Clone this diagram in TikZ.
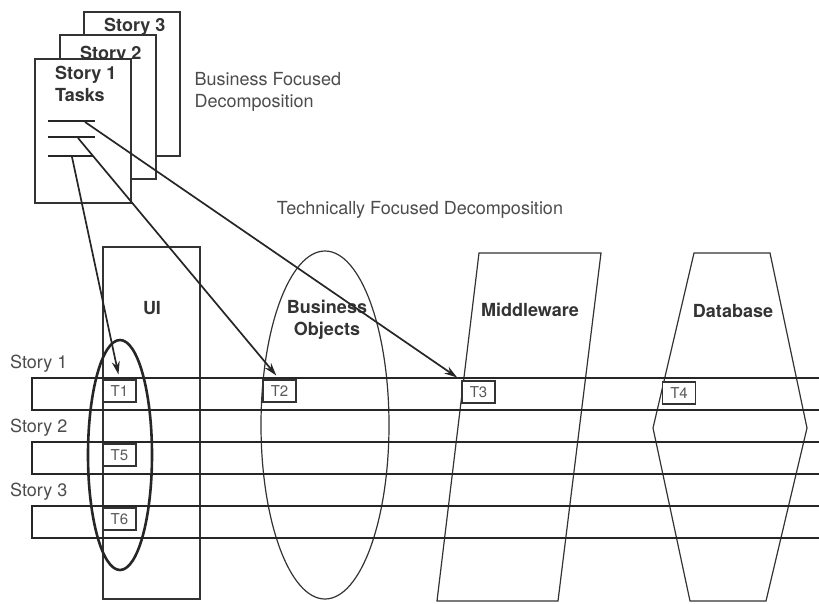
\documentclass[tikz,border=0pt]{standalone}
\usepackage{fontspec}
\setmainfont{TeX Gyre Heros}
\usetikzlibrary{arrows.meta,positioning}
\tikzset{
  page/.style={draw=black!80, line width=1.5pt, fill=white, minimum width=96pt, minimum height=144pt, anchor=north west, inner sep=0pt},
  lane/.style={draw=black!85, line width=2pt},
  tier/.style={draw=black!80, line width=1.2pt},
  group/.style={draw=black!85, line width=2.6pt},
  task/.style={draw=black!80, line width=1.4pt, fill=white, inner sep=0pt, minimum width=33pt, minimum height=22pt, font=\fontsize{15}{17}\selectfont, text=black!65},
  link/.style={-{Stealth[length=13pt,width=8pt]}, line width=1.7pt, black!85, shorten >=5pt},
  note/.style={font=\fontsize{18}{22}\selectfont, text=black!70, align=left},
  title/.style={font=\fontsize{18}{22}\selectfont\bfseries, text=black!80, align=center, inner sep=0pt}
}
\begin{document}
\begin{tikzpicture}[x=1pt,y=-1pt]
  \useasboundingbox (0,0) rectangle (819,603);
  \draw[tier] (103,247) rectangle (200,599);
  \draw[tier] (325,425) ellipse[x radius=64, y radius=174];
  \draw[tier] (479,253) -- (601,253) -- (558,601) -- (437,601) -- cycle;
  \draw[tier] (694,253) -- (770,253) -- (807,428) -- (766,601) -- (690,601) -- (653,428) -- cycle;
  \node[title] (ui) at (152,308) {UI};
  \node[title] (objects) at (327,320) {Business\\Objects};
  \node[title] (middleware) at (530,310) {Middleware};
  \node[title] (database) at (733,311) {Database};
  \draw[group] (120,455) ellipse[x radius=32, y radius=115];
  \foreach \y/\n in {378/1,442/2,506/3}{
    \draw[lane] (819,\y) -- (32,\y) -- (32,\y+32) -- (819,\y+32);
    \node[note, anchor=base west, inner sep=0pt] (story\n) at (10,\y-10) {Story \n};
  }
  \node[task] (T1) at (119.5,391) {T1};
  \node[task] (T5) at (119.5,455) {T5};
  \node[task] (T6) at (119.5,519) {T6};
  \node[task] (T2) at (279.5,391) {T2};
  \node[task] (T3) at (478.5,392) {T3};
  \node[task] (T4) at (679,393) {T4};
  \foreach \k/\x/\y/\d in {3/83/11/16,2/59/34/21,1/34/58/17}{
    \node[page] (page\k) at (\x,\y) {};
    \node[title, anchor=west] (head\k) at ([shift={(21,\d)}]page\k.north west) {Story \k};
  }
  \node[title, below right=4pt and 0pt of head1.south west] (tasks) {Tasks};
  \foreach \y/\l in {121/95,137/95,156/93}{\draw[line width=1.6pt, black!85] (48,\y) -- (\l,\y);}
  \coordinate (line1) at (85,122);
  \coordinate (line2) at (78,138);
  \coordinate (line3) at (72,157);
  \draw[link] (line1) -- (T3.north west);
  \draw[link] (line2) -- (T2.north);
  \draw[link] (line3) -- (T1.north);
  \node[note, anchor=west] (business) at (191,92) {Business Focused\\Decomposition};
  \node[note] (technical) at (420,210) {Technically Focused Decomposition};
\end{tikzpicture}
\end{document}
